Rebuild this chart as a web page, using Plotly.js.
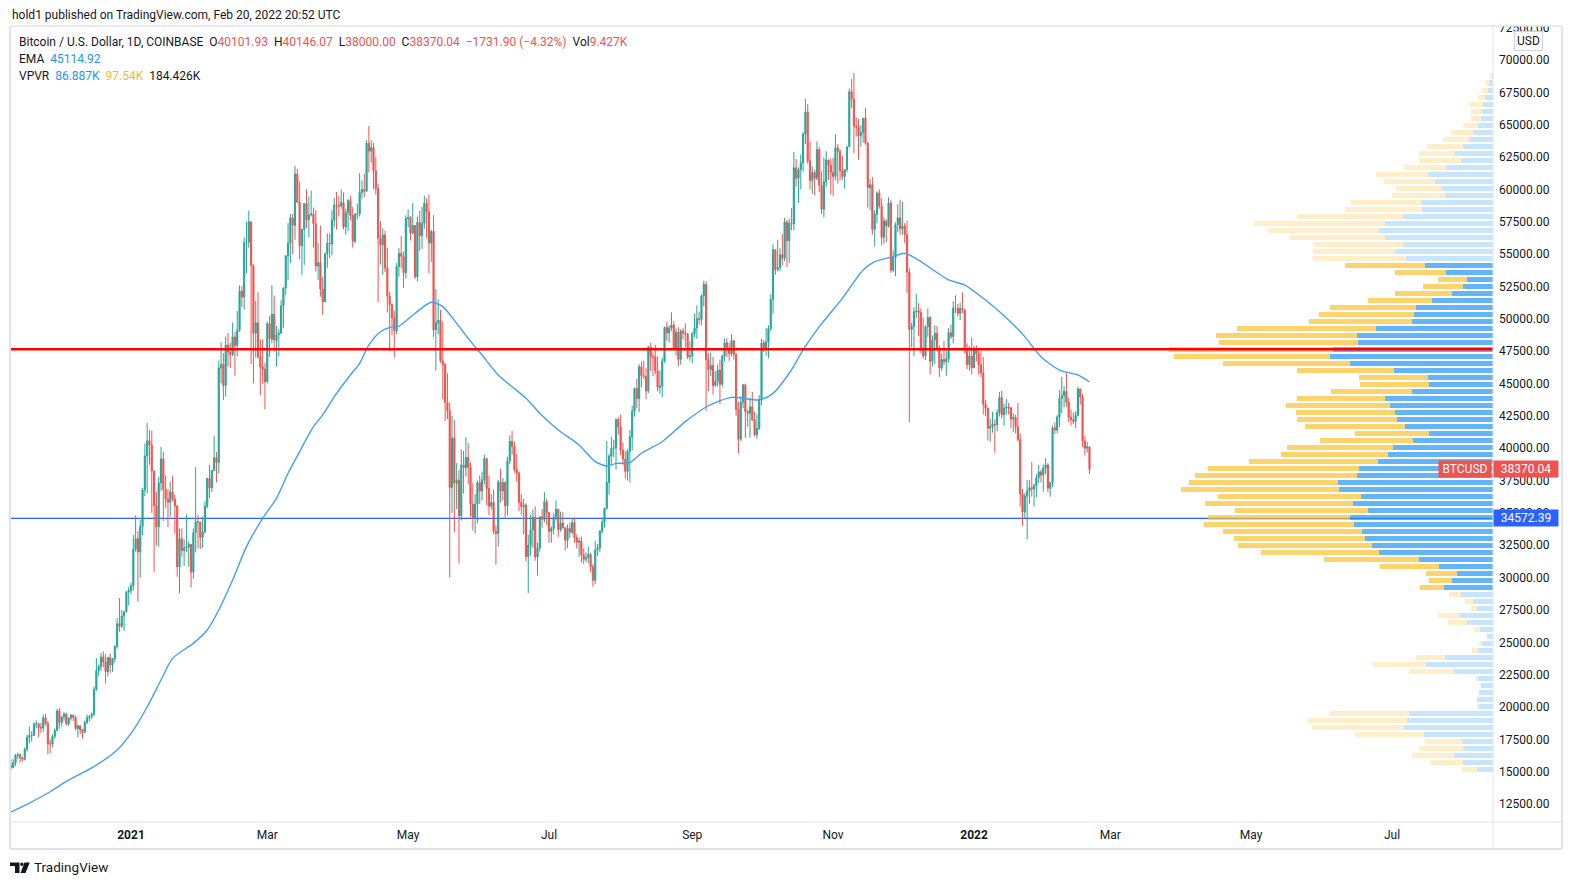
<!DOCTYPE html>
<html>
<head>
<meta charset="utf-8">
<script src="https://cdn.plot.ly/plotly-3.0.1.min.js"></script>
<style>html,body{margin:0;padding:0;background:#fff;}#chart{width:1573px;height:885px;}</style>
</head>
<body>
<div id="chart"></div>
<script>
// ---------------- DATA (BTC/USD daily, Coinbase, values in thousands of USD) ----------------
const startDate = '2020-11-10';
const opensK = [
// Nov 2020
15.48,15.32,15.70,16.29,16.33,16.07,15.96,16.73,17.66,17.80,17.82,18.68,18.71,18.42,18.37,19.16,18.73,17.15,17.14,17.73,18.18,
// Dec 2020
19.70,18.80,19.22,19.45,18.70,19.15,19.38,19.19,18.33,18.55,18.25,18.04,18.80,19.17,19.28,19.44,21.35,22.80,23.13,23.86,23.48,22.73,23.82,23.25,23.72,24.67,26.44,26.25,27.04,27.36,28.88,
// Jan 2021
28.99,29.38,32.20,33.00,31.99,33.95,36.77,39.40,40.58,40.24,38.23,35.55,33.92,37.32,39.17,36.83,36.05,35.82,36.63,36.07,35.54,30.83,33.01,32.09,32.28,32.36,32.57,30.43,33.47,34.32,34.29,
// Feb 2021
33.11,33.52,35.51,37.67,36.93,38.29,39.26,38.90,46.20,46.48,44.84,47.97,47.41,47.23,48.60,47.93,49.16,52.14,51.68,55.89,55.92,57.49,54.12,48.89,49.68,47.07,46.28,46.11,
// Mar 2021
45.14,49.62,48.44,50.35,48.37,48.76,48.88,51.01,52.39,54.88,55.85,57.79,57.23,61.19,59.00,55.65,56.92,58.91,57.65,58.03,58.10,57.35,54.08,54.34,52.30,51.31,55.03,55.84,55.78,57.62,58.79,
// Apr 2021
58.74,58.72,58.98,57.09,58.20,59.13,57.99,56.00,58.09,58.09,59.77,59.99,59.86,63.57,62.96,63.23,61.45,60.07,56.24,55.72,56.47,53.91,51.76,51.09,50.09,49.07,54.03,55.05,54.84,53.56,
// May 2021
57.75,57.83,56.63,57.21,53.24,57.47,56.43,57.38,58.93,58.28,55.86,56.75,49.15,49.72,49.88,46.76,46.45,43.54,42.90,36.97,40.78,37.30,37.53,34.77,38.71,38.49,39.29,38.53,35.68,34.61,35.68,
// Jun 2021
37.34,36.69,37.58,39.19,36.88,35.52,35.80,33.58,33.40,37.39,36.69,37.34,35.55,39.02,40.53,40.14,38.35,38.09,35.82,35.48,35.60,31.62,32.51,33.69,34.66,31.59,32.28,34.70,34.50,35.87,
// Jul 2021
35.04,33.57,33.80,34.67,35.29,33.69,34.22,33.86,32.88,33.81,33.51,34.26,33.09,32.73,32.82,31.78,31.42,31.53,31.79,30.82,29.79,32.14,32.29,33.59,34.25,35.35,37.34,39.40,40.00,40.02,42.21,
// Aug 2021
41.63,39.85,39.15,38.21,39.74,40.87,42.84,44.61,43.83,46.29,45.60,45.56,44.43,47.83,47.10,47.04,45.99,44.70,44.80,46.72,49.34,48.90,49.29,49.53,47.70,48.96,46.86,49.06,48.90,48.83,47.05,
// Sep 2021
47.15,48.85,49.28,50.03,49.94,51.77,52.66,46.86,46.07,46.40,44.85,45.17,46.03,44.94,47.11,48.15,47.77,47.30,48.31,47.26,42.99,40.69,43.56,44.90,42.82,42.70,43.20,42.18,41.03,41.52,
// Oct 2021
43.79,48.14,47.71,48.21,49.24,51.50,55.34,53.80,53.96,54.95,54.67,57.48,56.04,57.38,57.34,61.67,60.86,61.53,62.04,64.26,65.99,62.21,60.69,61.30,60.86,63.08,60.33,58.46,60.59,62.27,61.89,
// Nov 2021
61.32,61.00,63.22,62.94,61.44,61.00,61.53,63.30,67.55,66.97,64.88,64.80,64.14,64.40,65.50,63.60,60.13,60.36,56.91,58.10,59.72,58.70,56.30,57.55,57.16,58.95,53.76,54.72,57.28,57.80,
// Dec 2021
56.95,57.18,56.50,53.60,49.18,49.40,50.54,50.60,50.49,47.65,47.14,49.39,50.10,46.72,48.36,48.88,47.63,46.20,46.85,46.69,46.90,48.93,48.62,50.82,50.81,50.43,50.80,50.70,47.54,46.46,47.12,
// Jan 2022
46.21,47.72,47.30,46.44,45.83,43.42,43.08,41.55,41.67,41.86,41.82,42.74,43.92,42.59,43.10,43.18,43.11,42.25,42.37,41.66,40.68,36.47,35.07,36.28,36.68,36.95,36.85,37.13,37.71,38.17,37.92,
// Feb 2022
38.48,38.70,36.90,37.33,41.57,41.41,42.41,43.84,44.08,44.39,43.55,42.40,42.20,42.07,42.54,44.58,43.96,40.57,40.00,40.10193
];
const highsK = [
15.96,15.96,16.35,16.48,16.33,16.14,16.88,17.86,18.48,18.14,18.82,18.97,18.75,18.77,19.42,19.48,18.92,17.46,17.88,18.35,19.86,
19.92,19.31,19.60,19.53,19.18,19.42,19.40,19.30,18.65,18.56,18.28,18.95,19.42,19.35,19.57,21.56,23.77,23.28,24.17,24.30,24.10,23.84,24.13,23.80,24.79,26.87,28.42,27.50,27.39,28.99,29.30,
29.60,33.30,34.80,33.60,34.44,36.94,40.36,41.95,41.40,41.36,38.26,36.60,37.80,40.10,39.70,37.90,36.83,37.40,37.85,36.40,35.60,33.80,33.80,32.96,34.87,32.80,32.57,33.80,38.53,34.85,34.30,
34.70,35.90,37.70,38.71,38.30,40.96,39.70,46.75,48.20,47.35,48.63,48.90,48.15,49.71,49.00,50.60,52.60,52.55,56.30,57.50,58.35,57.53,54.20,51.40,52.05,48.40,48.40,46.60,
49.80,50.20,52.60,51.80,49.45,49.20,51.45,52.40,54.90,57.40,58.10,58.10,61.80,61.60,60.60,56.90,58.95,60.00,59.45,59.90,58.60,58.40,55.85,57.20,53.25,55.10,56.60,56.55,58.40,59.35,59.80,
59.50,60.00,59.75,58.50,59.25,59.50,58.65,58.15,58.90,61.25,60.70,61.20,63.80,64.90,63.80,63.60,62.50,60.40,57.55,57.00,56.80,55.50,52.10,51.20,50.60,54.30,55.45,56.40,55.20,58.00,
58.45,57.95,58.95,57.25,57.90,58.35,58.65,59.50,59.30,59.60,56.90,58.00,52.30,51.50,50.70,49.80,46.60,45.80,43.55,42.50,42.20,38.85,38.30,39.90,39.80,40.85,40.40,38.90,37.30,36.45,37.50,
37.90,38.20,39.50,39.25,37.90,36.45,36.80,34.05,37.55,38.40,37.70,37.45,39.35,41.00,41.33,40.50,39.55,38.20,36.45,36.10,35.75,33.30,34.85,35.25,35.50,32.70,34.70,35.30,36.60,36.10,
35.05,33.95,34.95,35.95,35.30,35.10,35.05,33.90,34.10,34.25,34.60,34.65,33.35,33.10,33.18,32.25,31.95,32.40,31.90,31.05,32.85,32.60,33.65,34.50,35.40,40.55,39.55,40.90,40.65,42.30,42.40,
42.60,40.45,39.80,39.95,41.40,43.30,44.70,45.35,46.50,46.70,46.75,46.20,47.90,48.15,47.40,48.00,47.10,46.00,47.00,49.40,49.75,49.50,50.50,49.85,49.25,49.35,49.20,49.30,49.65,48.90,48.25,
49.00,50.40,51.05,50.55,51.90,52.95,52.90,47.35,47.40,47.05,45.95,46.45,46.85,47.25,48.50,48.50,48.15,48.80,48.35,47.33,43.60,44.00,44.95,45.00,42.98,43.90,44.35,42.80,42.60,44.10,
48.45,48.35,49.30,49.50,51.90,55.75,55.35,56.10,55.45,56.55,57.80,57.65,57.75,58.55,62.90,62.35,61.70,62.70,64.45,67.00,66.60,63.70,61.75,61.50,63.70,63.30,61.40,62.45,62.95,62.30,62.40,
62.45,64.25,63.50,63.10,62.60,61.55,63.30,67.80,68.53,69.00,65.55,65.45,64.95,65.50,66.30,63.60,60.80,60.95,58.40,59.85,60.00,59.30,57.85,57.70,59.40,59.15,55.30,57.45,58.87,59.20,
59.05,57.40,57.60,53.90,49.70,50.90,51.95,51.20,50.80,50.10,49.50,50.80,50.20,48.70,49.50,49.45,47.95,47.30,48.30,47.50,49.30,49.55,51.35,51.80,51.15,51.25,52.05,50.70,48.10,47.90,48.55,
47.90,47.95,47.55,47.50,47.05,43.75,43.15,42.30,42.80,42.25,43.00,44.35,44.45,43.45,43.80,43.50,43.20,42.70,42.60,43.50,41.10,36.85,36.55,37.55,37.55,38.95,37.25,38.00,38.70,38.35,38.75,
39.25,38.85,37.40,41.75,42.00,42.55,44.50,45.50,44.80,45.80,43.90,43.00,42.75,42.85,44.75,44.60,44.20,40.95,40.48,40.14607
];
const lowsK = [
15.10,15.28,15.45,15.96,15.71,15.79,15.87,16.56,17.22,17.35,17.76,18.35,17.65,18.00,18.08,18.56,16.33,16.44,16.88,17.55,18.18,
18.32,18.50,18.93,18.57,18.54,18.95,18.90,18.20,17.65,17.92,17.57,18.02,18.70,18.92,19.05,19.30,21.23,22.35,22.80,23.06,21.82,22.35,22.63,22.72,23.45,24.50,25.82,26.10,25.88,27.32,27.85,
28.70,29.00,32.00,28.13,30.00,33.28,36.30,36.50,38.72,35.00,30.42,32.50,32.40,36.70,34.37,35.36,33.90,34.70,35.90,33.40,30.07,28.80,31.60,30.90,31.95,30.83,29.24,29.90,31.95,32.25,32.20,
32.30,33.42,35.36,36.16,36.60,38.20,37.35,38.05,45.00,43.73,43.98,46.30,46.20,47.10,45.60,47.10,48.97,50.90,50.70,53.50,55.50,46.50,45.00,47.00,46.90,44.10,45.00,43.00,
45.00,47.05,48.10,47.50,46.30,47.10,48.88,49.30,51.85,53.00,54.30,55.00,56.10,59.00,54.60,53.40,54.15,57.00,56.30,57.90,55.50,53.65,53.00,51.70,50.30,51.30,53.95,54.70,54.90,57.05,56.90,
57.90,58.50,56.90,56.50,56.80,57.60,55.50,55.80,57.70,57.90,59.30,59.40,59.80,61.30,62.05,60.00,59.60,51.30,54.20,53.40,53.60,50.50,47.50,48.75,47.00,48.80,53.25,53.90,52.40,53.10,
57.10,56.05,56.50,53.10,52.90,55.25,55.40,56.95,56.25,53.50,54.40,48.60,46.00,48.80,46.60,43.80,42.10,42.25,30.00,35.00,33.50,35.30,31.10,34.40,36.50,37.80,37.20,34.70,33.65,33.40,34.20,
35.70,35.95,37.20,35.60,34.80,35.25,33.35,31.00,32.40,35.80,35.95,34.65,34.80,38.75,39.50,38.10,37.40,35.15,34.85,33.35,31.25,28.80,31.70,32.30,31.30,30.15,32.00,33.85,34.25,34.05,
32.70,32.70,33.35,34.40,33.15,33.55,33.78,32.10,32.30,33.05,33.35,32.70,32.25,31.60,31.15,31.05,31.20,31.10,30.40,29.30,29.50,31.70,31.95,33.40,33.85,35.25,36.40,38.80,39.30,38.35,41.05,
39.45,38.70,37.65,37.50,37.35,39.85,42.45,43.10,42.80,44.70,45.35,43.80,44.25,45.95,45.55,45.70,44.40,44.20,43.95,46.60,48.30,48.15,49.05,47.60,47.15,46.35,46.45,48.40,47.80,46.90,46.75,
46.55,48.60,48.45,49.55,49.50,50.95,42.90,44.40,45.55,44.15,44.75,44.75,43.40,44.70,46.70,47.05,46.75,47.10,46.85,42.50,39.60,40.55,43.10,40.80,41.65,40.80,42.10,40.90,40.75,41.40,
43.30,47.43,47.15,46.95,49.05,50.40,53.40,53.65,53.70,54.10,54.45,54.00,54.30,56.85,56.85,60.20,58.95,60.00,61.35,63.50,62.00,60.00,59.65,59.55,60.70,59.80,58.10,57.85,60.20,60.75,59.60,
59.50,60.70,60.45,60.70,60.75,60.05,61.35,63.30,66.30,62.80,64.10,62.30,63.30,63.60,63.45,58.60,58.40,56.50,55.60,57.40,58.50,55.65,55.80,55.90,57.05,53.55,53.60,53.30,56.70,56.50,
56.50,55.85,52.00,42.00,47.80,47.10,50.05,48.65,47.35,46.90,46.80,48.60,45.70,46.30,46.50,47.55,45.50,45.95,46.40,45.60,46.60,48.45,48.10,50.45,50.20,49.90,50.45,47.30,46.10,46.00,45.70,
46.20,46.70,45.70,45.50,42.60,42.50,40.60,40.50,41.20,39.65,41.30,42.45,42.30,41.75,42.60,42.60,41.55,41.25,41.15,40.50,35.50,34.00,34.60,32.95,35.70,36.25,35.50,36.20,37.30,37.35,36.65,
38.00,36.60,36.25,37.00,41.10,41.15,41.65,42.70,43.15,43.20,42.00,41.75,41.85,41.55,42.45,43.35,40.10,39.45,39.65,38.00
];
const closesK = [
15.32,15.70,16.29,16.33,16.07,15.96,16.73,17.66,17.80,17.82,18.68,18.71,18.42,18.37,19.16,18.73,17.15,17.14,17.73,18.18,19.70,
18.80,19.22,19.45,18.70,19.15,19.38,19.19,18.33,18.55,18.25,18.04,18.80,19.17,19.28,19.44,21.35,22.80,23.13,23.86,23.48,22.73,23.82,23.25,23.72,24.67,26.44,26.25,27.04,27.36,28.88,28.99,
29.38,32.20,33.00,31.99,33.95,36.77,39.40,40.58,40.24,38.23,35.55,33.92,37.32,39.17,36.83,36.05,35.82,36.63,36.07,35.54,30.83,33.01,32.09,32.28,32.36,32.57,30.43,33.47,34.32,34.29,33.11,
33.52,35.51,37.67,36.93,38.29,39.26,38.90,46.20,46.48,44.84,47.97,47.41,47.23,48.60,47.93,49.16,52.14,51.68,55.89,55.92,57.49,54.12,48.89,49.68,47.07,46.28,46.11,45.14,
49.62,48.44,50.35,48.37,48.76,48.88,51.01,52.39,54.88,55.85,57.79,57.23,61.19,59.00,55.65,56.92,58.91,57.65,58.03,58.10,57.35,54.08,54.34,52.30,51.31,55.03,55.84,55.78,57.62,58.79,58.74,
58.72,58.98,57.09,58.20,59.13,57.99,56.00,58.09,58.09,59.77,59.99,59.86,63.57,62.96,63.23,61.45,60.07,56.24,55.72,56.47,53.91,51.76,51.09,50.09,49.07,54.03,55.05,54.84,53.56,57.75,
57.83,56.63,57.21,53.24,57.47,56.43,57.38,58.93,58.28,55.86,56.75,49.15,49.72,49.88,46.76,46.45,43.54,42.90,36.97,40.78,37.30,37.53,34.77,38.71,38.49,39.29,38.53,35.68,34.61,35.68,37.34,
36.69,37.58,39.19,36.88,35.52,35.80,33.58,33.40,37.39,36.69,37.34,35.55,39.02,40.53,40.14,38.35,38.09,35.82,35.48,35.60,31.62,32.51,33.69,34.66,31.59,32.28,34.70,34.50,35.87,35.04,
33.57,33.80,34.67,35.29,33.69,34.22,33.86,32.88,33.81,33.51,34.26,33.09,32.73,32.82,31.78,31.42,31.53,31.79,30.82,29.79,32.14,32.29,33.59,34.25,35.35,37.34,39.40,40.00,40.02,42.21,41.63,
39.85,39.15,38.21,39.74,40.87,42.84,44.61,43.83,46.29,45.60,45.56,44.43,47.83,47.10,47.04,45.99,44.70,44.80,46.72,49.34,48.90,49.29,49.53,47.70,48.96,46.86,49.06,48.90,48.83,47.05,47.15,
48.85,49.28,50.03,49.94,51.77,52.66,46.86,46.07,46.40,44.85,45.17,46.03,44.94,47.11,48.15,47.77,47.30,48.31,47.26,42.99,40.69,43.56,44.90,42.82,42.70,43.20,42.18,41.03,41.52,43.79,
48.14,47.71,48.21,49.24,51.50,55.34,53.80,53.96,54.95,54.67,57.48,56.04,57.38,57.34,61.67,60.86,61.53,62.04,64.26,65.99,62.21,60.69,61.30,60.86,63.08,60.33,58.46,60.59,62.27,61.89,61.32,
61.00,63.22,62.94,61.44,61.00,61.53,63.30,67.55,66.97,64.88,64.80,64.14,64.40,65.50,63.60,60.13,60.36,56.91,58.10,59.72,58.70,56.30,57.55,57.16,58.95,53.76,54.72,57.28,57.80,56.95,
57.18,56.50,53.60,49.18,49.40,50.54,50.60,50.49,47.65,47.14,49.39,50.10,46.72,48.36,48.88,47.63,46.20,46.85,46.69,46.90,48.93,48.62,50.82,50.81,50.43,50.80,50.70,47.54,46.46,47.12,46.21,
47.72,47.30,46.44,45.83,43.42,43.08,41.55,41.67,41.86,41.82,42.74,43.92,42.59,43.10,43.18,43.11,42.25,42.37,41.66,40.68,36.47,35.07,36.28,36.68,36.95,36.85,37.13,37.71,38.17,37.92,38.48,
38.70,36.90,37.33,41.57,41.41,42.41,43.84,44.08,44.39,43.55,42.40,42.20,42.07,42.54,44.58,43.96,40.57,40.00,40.10194,38.37004
];
const lastVolume = '9.427K';

// EMA
const emaDates = ['2020-11-09','2020-11-18','2020-11-27','2020-12-05','2020-12-15','2020-12-26','2021-01-02','2021-01-08','2021-01-14','2021-01-19','2021-01-28','2021-02-03','2021-02-08','2021-02-14','2021-02-20','2021-02-27','2021-03-05','2021-03-10','2021-03-15','2021-03-21','2021-03-25','2021-03-31','2021-04-06','2021-04-10','2021-04-14','2021-04-19','2021-04-23','2021-04-27','2021-05-04','2021-05-11','2021-05-16','2021-05-22','2021-05-27','2021-06-02','2021-06-09','2021-06-15','2021-06-21','2021-06-27','2021-07-05','2021-07-14','2021-07-21','2021-07-26','2021-07-30','2021-08-05','2021-08-10','2021-08-19','2021-08-29','2021-09-08','2021-09-18','2021-09-30','2021-10-06','2021-10-13','2021-10-19','2021-10-26','2021-11-05','2021-11-14','2021-11-19','2021-11-27','2021-12-02','2021-12-08','2021-12-21','2021-12-28','2022-01-06','2022-01-16','2022-01-23','2022-01-30','2022-02-07','2022-02-15','2022-02-20'];
const emaValues = [11800,12580,13450,14360,15290,16680,18220,20000,22090,23760,24920,25950,27500,29820,32390,34580,36130,38060,39730,41660,42570,44240,45660,46560,47980,49000,49340,49440,50430,51280,50940,49650,48490,47200,45660,44750,43860,42700,41410,40250,38960,38620,38830,38880,39610,40500,42050,43280,43930,43730,44240,45790,47590,49390,51580,53770,54410,54800,55060,54540,53000,52610,51450,49910,48620,47070,46040,45660,45114.92];

// Volume profile (visible range), rows from the highest price to the lowest
const profileHigh = 69000;
const profileLow = 14900;
const upVol = [1,4,5,8,10,11,12,15,20,24,30,38,32,47,65,58,52,48,72,71,90,108,114,108,90,98,87,68,47,26,30,41,61,77,79,81,117,136,135,160,163,143,99,65,64,81,108,103,98,96,88,64,80,100,105,115,134,136,155,154,132,140,125,143,139,131,128,121,114,74,54,36,41,49,32,20,16,33,26,13,6,11,15,48,67,39,15,12,14,16,14,84,86,89,69,31,30,39,30,16];
const downVol = [2,4,6,7,13,11,10,15,22,26,36,36,42,42,52,51,45,53,70,77,106,131,111,95,89,82,93,80,51,29,40,57,64,86,95,103,139,141,139,164,156,127,97,69,69,81,88,104,99,100,100,74,93,106,107,129,151,162,149,158,143,148,133,142,150,139,131,134,118,95,59,31,23,24,12,8,6,22,19,6,0,3,6,29,53,45,3,0,0,0,2,80,99,92,69,37,44,42,33,15];
const valueAreaHigh = 54400;
const valueAreaLow = 28950;
const vpvrUp = '86.887K', vpvrDown = '97.54K', vpvrTotal = '184.426K';

// Drawn horizontal levels
const resistanceLevel = 47650;
const supportLevel = 34572.39;

// Axis ticks
const xTickVals = ['2021-01-01','2021-03-01','2021-05-01','2021-07-01','2021-09-01','2021-11-01','2022-01-01','2022-03-01','2022-05-01','2022-07-01'];
const xTickText = ['<b>2021</b>','Mar','May','Jul','Sep','Nov','<b>2022</b>','Mar','May','Jul'];

// ---------------- BUILD ----------------
const W = 1573, H = 885;
const L = 10, R = 80, T = 26, B = 63;
const PW = W - L - R, PH = H - T - B;
const px = x => (x - L) / PW;
const py = y => (H - B - y) / PH;

const t0 = Date.parse(startDate + 'T00:00:00Z');
const dates = closesK.map((_, i) => new Date(t0 + i * 86400000).toISOString().slice(0, 10));
const k = v => v * 1000;

const dark = '#131722';
const upCol = '#26a69a', downCol = '#ef5350';

const candles = {
  type: 'candlestick', x: dates,
  open: opensK.map(k), high: highsK.map(k), low: lowsK.map(k), close: closesK.map(k),
  increasing: {line: {color: upCol, width: 1}, fillcolor: upCol},
  decreasing: {line: {color: downCol, width: 1}, fillcolor: downCol},
  whiskerwidth: 0, hoverinfo: 'skip', showlegend: false, xaxis: 'x', yaxis: 'y'
};

const ema = {
  type: 'scatter', mode: 'lines', x: emaDates, y: emaValues,
  line: {color: '#42a0f0', width: 1.4, shape: 'spline', smoothing: 0.7},
  hoverinfo: 'skip', showlegend: false, xaxis: 'x', yaxis: 'y'
};

const nRows = upVol.length;
const rowSize = (profileHigh - profileLow) / nRows;
const rowCenters = upVol.map((_, i) => profileHigh - (i + 0.5) * rowSize);
const inVA = c => c <= valueAreaHigh && c >= valueAreaLow;
const upColors = rowCenters.map(c => inVA(c) ? 'rgba(33,150,243,0.7)' : 'rgba(33,150,243,0.25)');
const dnColors = rowCenters.map(c => inVA(c) ? 'rgba(251,192,45,0.7)' : 'rgba(251,192,45,0.25)');
const profUp = {type: 'bar', orientation: 'h', x: upVol, y: rowCenters, width: rowSize * 0.84,
  marker: {color: upColors, line: {width: 0}}, xaxis: 'x2', yaxis: 'y', hoverinfo: 'skip', showlegend: false};
const profDn = {type: 'bar', orientation: 'h', x: downVol, y: rowCenters, width: rowSize * 0.84,
  marker: {color: dnColors, line: {width: 0}}, xaxis: 'x2', yaxis: 'y', hoverinfo: 'skip', showlegend: false};
const maxTotal = Math.max(...upVol.map((u, i) => u + downVol[i]));
const profileWidthFrac = 0.2185;

// legend values
const n = closesK.length;
const lastO = k(opensK[n-1]), lastH = k(highsK[n-1]), lastL = k(lowsK[n-1]), lastC = k(closesK[n-1]);
const prevC = k(closesK[n-2]);
const chg = lastC - prevC;
const sgn = chg < 0 ? '\u2212' : '+';
const chgTxt = sgn + Math.abs(chg).toFixed(2) + ' (' + sgn + Math.abs(chg / prevC * 100).toFixed(2) + '%)';
const red = s => '<span style="color:#ef5350">' + s + '</span>';
const sp = '\u00a0\u00a0';
const line1 = 'Bitcoin / U.S. Dollar, 1D, COINBASE' + sp + 'O' + red(lastO.toFixed(2)) + sp + 'H' + red(lastH.toFixed(2)) +
  sp + 'L' + red(lastL.toFixed(2)) + sp + 'C' + red(lastC.toFixed(2)) + sp + red(chgTxt) + sp + 'Vol' + red(lastVolume);
const line2 = 'EMA' + sp + '<span style="color:#2196f3">' + emaValues[emaValues.length-1].toFixed(2) + '</span>';
const line3 = 'VPVR' + sp + '<span style="color:#2196f3">' + vpvrUp + '</span>' + sp + '<span style="color:#f5b82e">' + vpvrDown + '</span>' + sp + vpvrTotal;

const FONT = 'Roboto, "Open Sans", "DejaVu Sans", sans-serif';
const frameCol = '#e0e3eb';
const pline = (x0, y0, x1, y1, col, w) => ({type: 'line', xref: 'paper', yref: 'paper', x0: px(x0), y0: py(y0), x1: px(x1), y1: py(y1), line: {color: col, width: w}, layer: 'above'});
const ppath = (pts, col) => ({type: 'path', xref: 'paper', yref: 'paper', path: 'M' + pts.map(p => px(p[0]) + ',' + py(p[1])).join(' L') + ' Z', fillcolor: col, line: {width: 0}, layer: 'above'});

const shapes = [
  {type: 'line', xref: 'paper', x0: 0, x1: 1, yref: 'y', y0: supportLevel, y1: supportLevel, line: {color: '#2962ff', width: 1.2}, layer: 'below'},
  {type: 'line', xref: 'paper', x0: 0, x1: 1, yref: 'y', y0: resistanceLevel, y1: resistanceLevel, line: {color: '#ff0000', width: 2.5}, layer: 'above'},
  // white band above the pane (clips the top price label like the reference)
  {type: 'rect', xref: 'paper', yref: 'paper', x0: px(1494), x1: px(1561), y0: py(26), y1: py(2), fillcolor: '#ffffff', line: {width: 0}, layer: 'above'},
  pline(10, 26, 1562, 26, frameCol, 1.5),
  pline(10, 26, 10, 849, frameCol, 2),
  pline(1562, 26, 1562, 849, frameCol, 2),
  pline(10, 849, 1562, 849, frameCol, 2),
  pline(1493, 26, 1493, 849, frameCol, 1),
  pline(10, 822, 1562, 822, frameCol, 1),
  // TradingView logo
  ppath([[10,862.5],[19.5,862.5],[19.5,873],[15,873],[15,866],[10,866]], dark),
  {type: 'circle', xref: 'paper', yref: 'paper', x0: px(20.2), x1: px(23.6), y0: py(862.5), y1: py(865.9), fillcolor: dark, line: {width: 0}, layer: 'above'},
  ppath([[24.5,862.5],[29.8,862.5],[25.5,873],[20.5,873]], dark)
];

const annotations = [
  {xref: 'paper', yref: 'paper', x: px(10), y: py(14.5), xanchor: 'left', yanchor: 'middle', showarrow: false,
   text: 'hold1 published on TradingView.com, Feb 20, 2022 20:52 UTC', font: {family: FONT, size: 12, color: dark}},
  {xref: 'paper', yref: 'paper', x: px(17), y: py(42), xanchor: 'left', yanchor: 'middle', showarrow: false, text: line1, font: {family: FONT, size: 12, color: dark}},
  {xref: 'paper', yref: 'paper', x: px(17), y: py(59), xanchor: 'left', yanchor: 'middle', showarrow: false, text: line2, font: {family: FONT, size: 12, color: dark}},
  {xref: 'paper', yref: 'paper', x: px(17), y: py(76), xanchor: 'left', yanchor: 'middle', showarrow: false, text: line3, font: {family: FONT, size: 12, color: dark}},
  {xref: 'paper', yref: 'paper', x: px(1528), y: py(41.5), xanchor: 'center', yanchor: 'middle', showarrow: false, text: 'USD',
   bordercolor: '#d1d4dc', borderwidth: 1, borderpad: 2, bgcolor: '#ffffff', font: {family: FONT, size: 12, color: dark}},
  {xref: 'paper', yref: 'y', x: px(1492), y: lastC, xanchor: 'right', yanchor: 'middle', showarrow: false, text: 'BTCUSD',
   bgcolor: '#ef5350', borderpad: 1, width: 50, height: 14, font: {family: FONT, size: 12, color: '#ffffff'}},
  {xref: 'paper', yref: 'y', x: px(1493), y: lastC, xanchor: 'left', yanchor: 'middle', showarrow: false, text: lastC.toFixed(2),
   bgcolor: '#ef5350', borderpad: 1, width: 62, height: 14, font: {family: FONT, size: 12, color: '#ffffff'}},
  {xref: 'paper', yref: 'y', x: px(1493), y: supportLevel, xanchor: 'left', yanchor: 'middle', showarrow: false, text: supportLevel.toFixed(2),
   bgcolor: '#2962ff', borderpad: 1, width: 62, height: 14, font: {family: FONT, size: 12, color: '#ffffff'}},
  {xref: 'paper', yref: 'paper', x: px(32), y: py(867), xanchor: 'left', yanchor: 'middle', showarrow: false, text: 'TradingView',
   font: {family: FONT, size: 13.5, color: dark}}
];

const layout = {
  width: W, height: H,
  margin: {l: L, r: R, t: T, b: B, pad: 0},
  paper_bgcolor: '#ffffff', plot_bgcolor: '#ffffff',
  font: {family: FONT, size: 12, color: dark},
  showlegend: false, barmode: 'stack', bargap: 0,
  xaxis: {type: 'date', range: ['2020-11-09 14:38', '2022-08-13 17:00'], rangeslider: {visible: false},
    tickmode: 'array', tickvals: xTickVals, ticktext: xTickText, showgrid: false, zeroline: false, showline: false,
    ticks: '', ticklabelstandoff: 4, tickfont: {family: FONT, size: 12, color: dark}, fixedrange: true},
  xaxis2: {overlaying: 'x', anchor: 'y', range: [maxTotal / profileWidthFrac, 0], visible: false, fixedrange: true},
  yaxis: {side: 'right', range: [11113, 72627], tickmode: 'linear', tick0: 0, dtick: 2500, tickformat: '.2f',
    showgrid: false, zeroline: false, showline: false, ticks: '', ticklabelstandoff: 5,
    tickfont: {family: FONT, size: 12, color: dark}, fixedrange: true},
  shapes: shapes, annotations: annotations
};

Plotly.newPlot('chart', [candles, ema, profUp, profDn], layout, {displayModeBar: false, staticPlot: true});
</script>
</body>
</html>
